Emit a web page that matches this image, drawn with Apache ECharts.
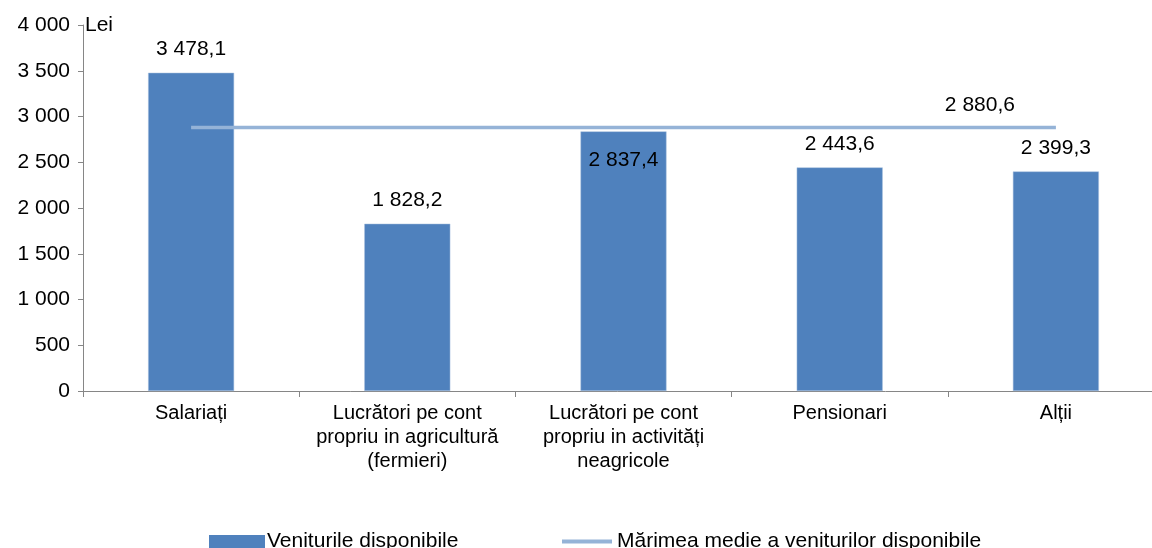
<!DOCTYPE html>
<html>
<head>
<meta charset="utf-8">
<script src="https://cdn.jsdelivr.net/npm/echarts@6/dist/echarts.min.js"></script>
<style>
html,body{margin:0;padding:0;background:#fff;overflow:hidden;}
#chart{width:1152px;height:548px;}
</style>
</head>
<body>
<div id="chart"></div>
<script>
const categories = [
  'Salariați',
  'Lucrători pe cont\npropriu in agricultură\n(fermieri)',
  'Lucrători pe cont\npropriu in activități\nneagricole',
  'Pensionari',
  'Alții'
];
const venituri = [3478.1, 1828.2, 2837.4, 2443.6, 2399.3];
const medie = [2880.6, 2880.6, 2880.6, 2880.6, 2880.6];
const yTicks = [0, 500, 1000, 1500, 2000, 2500, 3000, 3500, 4000];

function fmt(v, dec) {
  const s = v.toFixed(dec);
  const parts = s.split('.');
  const intp = parts[0].replace(/\B(?=(\d{3})+(?!\d))/g, ' ');
  return parts.length > 1 ? intp + ',' + parts[1] : intp;
}

const FONT = 'Liberation Sans, Arial, sans-serif';
const chart = echarts.init(document.getElementById('chart'));

const barData = venituri.map((v, i) => {
  if (i === 2) {
    return { value: v, label: { position: 'insideTop', distance: 18 } };
  }
  return v;
});
const lineData = medie.map((v, i) => {
  if (i === medie.length - 1) {
    return { value: v, label: { show: true, position: 'top', offset: [-76, -7] } };
  }
  return v;
});

chart.setOption({
  animation: false,
  textStyle: { fontFamily: FONT },
  grid: { left: 83, width: 1081, top: 25, height: 366, containLabel: false, outerBoundsMode: 'none' },
  legend: [
    {
      data: ['Veniturile disponibile'],
      left: 209, top: 531, padding: 0,
      itemWidth: 56, itemHeight: 13, itemGap: 4,
      icon: 'rect',
      itemStyle: { borderWidth: 0 },
      textStyle: { fontSize: 21, color: '#000', fontFamily: FONT, padding: [0, 0, 0, -3] }
    },
    {
      data: ['Mărimea medie a veniturilor disponibile'],
      left: 562, top: 531, padding: 0,
      itemWidth: 50, itemHeight: 4,
      icon: 'rect',
      itemStyle: { borderWidth: 0 },
      textStyle: { fontSize: 21, color: '#000', fontFamily: FONT, padding: [0, 0, 0, 0] }
    }
  ],
  xAxis: {
    type: 'category',
    data: categories,
    axisLine: { lineStyle: { color: '#868686', width: 1 } },
    axisTick: { show: true, alignWithLabel: false, interval: 0, length: 6, lineStyle: { color: '#868686' } },
    axisLabel: { fontSize: 20, color: '#000', lineHeight: 24, margin: 10, interval: 0, fontFamily: FONT }
  },
  yAxis: {
    type: 'value',
    min: 0, max: 4000, interval: 500,
    name: 'Lei',
    nameLocation: 'end',
    nameGap: 0,
    nameTextStyle: { fontSize: 21, color: '#000', align: 'left', verticalAlign: 'middle', padding: [0, 0, 0, 2], fontFamily: FONT },
    axisLine: { show: true, lineStyle: { color: '#868686', width: 1 } },
    axisTick: { show: true, length: 5, lineStyle: { color: '#868686' } },
    splitLine: { show: false },
    axisLabel: {
      fontSize: 21, color: '#000', margin: 13, fontFamily: FONT,
      formatter: v => yTicks.indexOf(v) >= 0 ? fmt(v, 0) : ''
    }
  },
  series: [
    {
      name: 'Veniturile disponibile',
      type: 'bar',
      data: barData,
      barWidth: 86,
      itemStyle: { color: '#4F81BD', borderColor: '#A9C1DF', borderWidth: 0.5 },
      label: {
        show: true, position: 'top', distance: 13,
        fontSize: 21, color: '#000', fontFamily: FONT,
        formatter: p => fmt(p.value, 1)
      },
      z: 2
    },
    {
      name: 'Mărimea medie a veniturilor disponibile',
      type: 'line',
      data: lineData,
      symbol: 'circle',
      symbolSize: 0,
      showSymbol: true,
      lineStyle: { color: '#95B3D7', width: 3.5 },
      itemStyle: { color: '#95B3D7' },
      label: {
        show: false, fontSize: 21, color: '#000', fontFamily: FONT,
        formatter: p => fmt(p.value, 1)
      },
      z: 3
    }
  ]
});
</script>
</body>
</html>
